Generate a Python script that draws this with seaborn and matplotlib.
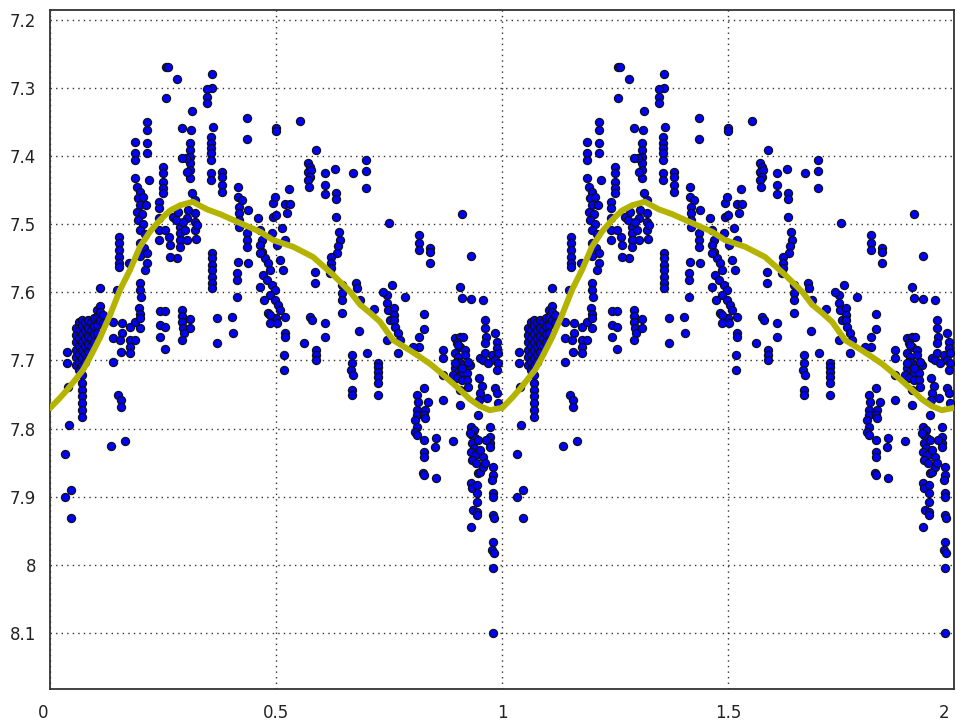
import matplotlib
matplotlib.use("Agg")
import matplotlib.pyplot as plt
import matplotlib.transforms as mtransforms
import numpy as np
import pandas as pd
import seaborn as sns

# Phase-folded V magnitudes, grouped by part of the light curve
rise = [
    (0.038, 7.688), (0.038, 7.704), (0.040, 7.739), (0.042, 7.795), (0.033, 7.837),
    (0.046, 7.890), (0.033, 7.900), (0.046, 7.931),
    (0.058, 7.652), (0.058, 7.662), (0.058, 7.673), (0.058, 7.685), (0.058, 7.695), (0.058, 7.707),
    (0.064, 7.643), (0.064, 7.655), (0.064, 7.667), (0.064, 7.679), (0.064, 7.690), (0.064, 7.702),
    (0.064, 7.714),
    (0.071, 7.641), (0.071, 7.649), (0.071, 7.661), (0.071, 7.673), (0.071, 7.685), (0.071, 7.696),
    (0.071, 7.708), (0.071, 7.721), (0.071, 7.733), (0.071, 7.743), (0.071, 7.752), (0.071, 7.762),
    (0.071, 7.773), (0.071, 7.783),
    (0.077, 7.643), (0.077, 7.655), (0.077, 7.667), (0.077, 7.679), (0.077, 7.690), (0.077, 7.702),
    (0.084, 7.641), (0.084, 7.652), (0.084, 7.664), (0.084, 7.676), (0.084, 7.688),
    (0.091, 7.643), (0.091, 7.655), (0.091, 7.667), (0.091, 7.679),
    (0.097, 7.638), (0.097, 7.649), (0.097, 7.661), (0.097, 7.673),
    (0.104, 7.626), (0.104, 7.636), (0.104, 7.648), (0.104, 7.660),
    (0.111, 7.594), (0.111, 7.620), (0.111, 7.629), (0.111, 7.641),
    (0.117, 7.633), (0.117, 7.645),
    (0.139, 7.643), (0.159, 7.645), (0.177, 7.651), (0.188, 7.643), (0.199, 7.652), (0.159, 7.660),
    (0.139, 7.667), (0.155, 7.670), (0.177, 7.670), (0.188, 7.670), (0.177, 7.680), (0.177, 7.689),
    (0.157, 7.688), (0.139, 7.702),
    (0.150, 7.751), (0.157, 7.758), (0.157, 7.768), (0.135, 7.826), (0.166, 7.818),
    (0.153, 7.519), (0.153, 7.527), (0.153, 7.538), (0.153, 7.548), (0.153, 7.557), (0.153, 7.563),
    (0.148, 7.596), (0.175, 7.557),
    (0.188, 7.379), (0.188, 7.395), (0.188, 7.406), (0.188, 7.432),
    (0.215, 7.350), (0.215, 7.362), (0.215, 7.381), (0.215, 7.395),
    (0.192, 7.445), (0.199, 7.452), (0.195, 7.462), (0.206, 7.460), (0.199, 7.472), (0.192, 7.482),
    (0.204, 7.485), (0.195, 7.494), (0.206, 7.500), (0.199, 7.508), (0.212, 7.472), (0.219, 7.435),
    (0.210, 7.514), (0.199, 7.528), (0.208, 7.535), (0.199, 7.546), (0.215, 7.542), (0.215, 7.557),
    (0.210, 7.567), (0.199, 7.586), (0.199, 7.596), (0.201, 7.607), (0.197, 7.623), (0.199, 7.632),
    (0.199, 7.638),
]

maximum = [
    (0.250, 7.416), (0.250, 7.425), (0.250, 7.438), (0.250, 7.447), (0.250, 7.454),
    (0.241, 7.467), (0.241, 7.476), (0.241, 7.491), (0.241, 7.508), (0.241, 7.523),
    (0.257, 7.269), (0.261, 7.269), (0.281, 7.287), (0.257, 7.315),
    (0.243, 7.627), (0.254, 7.627), (0.243, 7.648), (0.254, 7.651), (0.243, 7.666), (0.254, 7.683),
    (0.292, 7.359), (0.312, 7.362), (0.310, 7.381), (0.310, 7.391), (0.310, 7.401), (0.310, 7.410),
    (0.310, 7.420), (0.310, 7.432), (0.301, 7.403), (0.292, 7.403), (0.303, 7.423), (0.314, 7.454),
    (0.314, 7.334),
    (0.321, 7.464), (0.305, 7.479), (0.303, 7.491), (0.288, 7.504), (0.288, 7.513), (0.288, 7.523),
    (0.288, 7.533), (0.281, 7.549), (0.265, 7.548), (0.321, 7.483), (0.321, 7.497), (0.321, 7.508),
    (0.323, 7.522), (0.303, 7.523), (0.263, 7.519), (0.272, 7.489), (0.279, 7.494), (0.294, 7.497),
    (0.283, 7.482), (0.299, 7.508), (0.265, 7.530), (0.254, 7.508), (0.325, 7.501),
    (0.292, 7.626), (0.292, 7.635), (0.292, 7.643), (0.294, 7.652), (0.296, 7.660), (0.292, 7.670),
    (0.310, 7.639), (0.310, 7.652),
    (0.358, 7.279), (0.358, 7.300), (0.347, 7.301), (0.347, 7.313), (0.347, 7.322), (0.361, 7.357),
    (0.356, 7.372), (0.356, 7.381), (0.356, 7.388), (0.356, 7.395), (0.356, 7.406), (0.356, 7.425),
    (0.356, 7.435), (0.380, 7.423), (0.380, 7.431), (0.380, 7.442), (0.380, 7.453),
    (0.358, 7.542), (0.358, 7.549), (0.358, 7.560), (0.358, 7.567), (0.358, 7.577), (0.358, 7.586),
    (0.358, 7.594), (0.369, 7.638), (0.369, 7.674),
]

decline = [
    (0.416, 7.445), (0.416, 7.460), (0.425, 7.464), (0.418, 7.475), (0.418, 7.483), (0.418, 7.494),
    (0.418, 7.504), (0.438, 7.479), (0.436, 7.344), (0.436, 7.375), (0.416, 7.555), (0.414, 7.572),
    (0.414, 7.582), (0.414, 7.607), (0.438, 7.557), (0.403, 7.636), (0.405, 7.660), (0.436, 7.513),
    (0.436, 7.523), (0.436, 7.533),
    (0.460, 7.491), (0.465, 7.508), (0.469, 7.523), (0.493, 7.469), (0.493, 7.489), (0.498, 7.460),
    (0.500, 7.359), (0.500, 7.363), (0.500, 7.486),
    (0.465, 7.530), (0.469, 7.541), (0.476, 7.549), (0.482, 7.557), (0.487, 7.567), (0.471, 7.574),
    (0.480, 7.582), (0.491, 7.589), (0.498, 7.596), (0.487, 7.604), (0.473, 7.611), (0.498, 7.611),
    (0.504, 7.618), (0.509, 7.626), (0.500, 7.638), (0.487, 7.645), (0.465, 7.542), (0.465, 7.592),
    (0.482, 7.630), (0.509, 7.552), (0.515, 7.567), (0.502, 7.530), (0.491, 7.513), (0.513, 7.505),
    (0.520, 7.523),
    (0.529, 7.448), (0.520, 7.470), (0.531, 7.470), (0.524, 7.483), (0.518, 7.692), (0.518, 7.714),
    (0.487, 7.633), (0.502, 7.645), (0.520, 7.636), (0.520, 7.660), (0.520, 7.666),
    (0.553, 7.348), (0.588, 7.391), (0.571, 7.410), (0.575, 7.416), (0.571, 7.423), (0.577, 7.420),
    (0.575, 7.431), (0.571, 7.435), (0.573, 7.445), (0.608, 7.425), (0.608, 7.442), (0.608, 7.456),
    (0.631, 7.419), (0.633, 7.454), (0.633, 7.463), (0.633, 7.489), (0.670, 7.425), (0.699, 7.406),
    (0.699, 7.422), (0.699, 7.447), (0.750, 7.498),
    (0.639, 7.511), (0.642, 7.523), (0.637, 7.532), (0.635, 7.542), (0.622, 7.548), (0.622, 7.557),
    (0.622, 7.564), (0.619, 7.572),
    (0.586, 7.570), (0.586, 7.586), (0.646, 7.589), (0.646, 7.601), (0.646, 7.611), (0.646, 7.630),
    (0.677, 7.586), (0.679, 7.594), (0.686, 7.611), (0.717, 7.624), (0.684, 7.657), (0.701, 7.689),
    (0.575, 7.636), (0.580, 7.641), (0.608, 7.645), (0.608, 7.666), (0.562, 7.674), (0.588, 7.685),
    (0.588, 7.692), (0.588, 7.699),
    (0.668, 7.692), (0.668, 7.704), (0.666, 7.714), (0.670, 7.721), (0.668, 7.743), (0.668, 7.751),
    (0.726, 7.704), (0.726, 7.710), (0.726, 7.717), (0.726, 7.724), (0.726, 7.733), (0.726, 7.751),
    (0.746, 7.604), (0.746, 7.616), (0.748, 7.626), (0.752, 7.641), (0.761, 7.623), (0.761, 7.633),
    (0.761, 7.641), (0.763, 7.651), (0.770, 7.660), (0.774, 7.670), (0.746, 7.670), (0.737, 7.599),
    (0.757, 7.589),
]

minimum = [
    (0.816, 7.516), (0.816, 7.527), (0.816, 7.538), (0.841, 7.535), (0.841, 7.541), (0.841, 7.557),
    (0.912, 7.485), (0.931, 7.547), (0.785, 7.607), (0.827, 7.632), (0.827, 7.654), (0.816, 7.666),
    (0.816, 7.680), (0.803, 7.680), (0.770, 7.689),
    (0.812, 7.751), (0.814, 7.761), (0.812, 7.773), (0.812, 7.780), (0.808, 7.787), (0.812, 7.798),
    (0.808, 7.805), (0.812, 7.809), (0.827, 7.740), (0.836, 7.761), (0.830, 7.773), (0.827, 7.780),
    (0.830, 7.784), (0.827, 7.817), (0.827, 7.834), (0.827, 7.842), (0.825, 7.865), (0.827, 7.868),
    (0.854, 7.814), (0.852, 7.827), (0.854, 7.873), (0.892, 7.818),
    (0.896, 7.667), (0.907, 7.666), (0.914, 7.666), (0.900, 7.674), (0.907, 7.680), (0.918, 7.685),
    (0.896, 7.689), (0.903, 7.695), (0.900, 7.702), (0.907, 7.704), (0.914, 7.707), (0.929, 7.707),
    (0.896, 7.711), (0.903, 7.717), (0.912, 7.718), (0.923, 7.718), (0.892, 7.721), (0.900, 7.726),
    (0.912, 7.729), (0.923, 7.729), (0.907, 7.743), (0.869, 7.685), (0.869, 7.696), (0.869, 7.721),
    (0.869, 7.758), (0.907, 7.765), (0.903, 7.677), (0.918, 7.692), (0.925, 7.702), (0.896, 7.704),
    (0.912, 7.711), (0.925, 7.739),
    (0.962, 7.641), (0.962, 7.652), (0.965, 7.666), (0.962, 7.674), (0.951, 7.696), (0.958, 7.699),
    (0.962, 7.689), (0.969, 7.704), (0.978, 7.692), (0.985, 7.660), (0.989, 7.673), (0.989, 7.682),
    (0.991, 7.689), (0.985, 7.699), (0.991, 7.704), (0.989, 7.714), (0.985, 7.740), (0.989, 7.748),
    (0.991, 7.762), (0.949, 7.726), (0.956, 7.737), (0.951, 7.748), (0.949, 7.758), (0.967, 7.755),
    (0.947, 7.780), (0.958, 7.611), (0.907, 7.592), (0.912, 7.608), (0.931, 7.610),
    (0.931, 7.798), (0.938, 7.802), (0.934, 7.809), (0.940, 7.814), (0.934, 7.821), (0.938, 7.829),
    (0.931, 7.834), (0.940, 7.839), (0.934, 7.846), (0.942, 7.851), (0.947, 7.865), (0.951, 7.864),
    (0.958, 7.856), (0.958, 7.842), (0.962, 7.851), (0.973, 7.798), (0.973, 7.812), (0.973, 7.821),
    (0.973, 7.827), (0.980, 7.856), (0.980, 7.868), (0.978, 7.875), (0.931, 7.880), (0.934, 7.887),
    (0.945, 7.883), (0.945, 7.895), (0.945, 7.908), (0.936, 7.920), (0.945, 7.922), (0.945, 7.927),
    (0.931, 7.945), (0.980, 7.895), (0.980, 7.900), (0.980, 7.927), (0.982, 7.931), (0.980, 7.967),
    (0.978, 7.978), (0.982, 7.983), (0.980, 8.005), (0.980, 8.100), (0.929, 7.806), (0.947, 7.817),
    (0.951, 7.831), (0.965, 7.817),
]

# Mean light curve (phase, magnitude)
fit_phase = [0.000, 0.022, 0.038, 0.055, 0.073, 0.088, 0.111, 0.133, 0.155, 0.177, 0.199,
             0.221, 0.243, 0.265, 0.288, 0.316, 0.347, 0.376, 0.420, 0.465, 0.493, 0.538,
             0.582, 0.626, 0.664, 0.686, 0.708, 0.730, 0.759, 0.796, 0.819, 0.841, 0.863,
             0.885, 0.907, 0.929, 0.951, 0.973, 0.996, 1.000]
fit_mag = [7.770, 7.755, 7.743, 7.729, 7.714, 7.696, 7.666, 7.633, 7.596, 7.567, 7.533,
           7.511, 7.494, 7.480, 7.472, 7.467, 7.478, 7.485, 7.498, 7.511, 7.523, 7.533,
           7.548, 7.574, 7.599, 7.618, 7.630, 7.643, 7.670, 7.685, 7.695, 7.705, 7.717,
           7.730, 7.743, 7.757, 7.767, 7.773, 7.770, 7.769]

x_ticks = [0, 0.5, 1, 1.5, 2]
x_labels = ["0", "0.5", "1", "1.5", "2"]
y_ticks = [7.2, 7.3, 7.4, 7.5, 7.6, 7.7, 7.8, 7.9, 8.0, 8.1]
y_labels = ["7.2", "7.3", "7.4", "7.5", "7.6", "7.7", "7.8", "7.9", "8", "8.1"]

obs = pd.DataFrame(rise + maximum + decline + minimum, columns=["phase", "mag"])
# show two cycles
obs2 = pd.concat([obs, obs.assign(phase=obs["phase"] + 1)], ignore_index=True)
fit = pd.DataFrame({"phase": fit_phase, "mag": fit_mag})
fit2 = pd.concat([fit, fit.assign(phase=fit["phase"] + 1)], ignore_index=True)

sns.set_theme(style="white")
plt.rcParams["font.family"] = ["DejaVu Sans"]

fig = plt.figure(figsize=(9.57, 7.25), dpi=100)
ax = fig.add_axes([50 / 957, 36 / 725, 904 / 957, 679 / 725])

sns.scatterplot(data=obs2, x="phase", y="mag", ax=ax, s=34, color="#0000ff",
                edgecolor="#111111", linewidth=0.9, zorder=3, legend=False)
sns.lineplot(data=fit2, x="phase", y="mag", ax=ax, color="#b4b400", linewidth=4.3,
             sort=False, estimator=None, zorder=4, legend=False)

ax.set_xlim(0, 2)
ax.set_ylim(8.1824, 7.1853)
ax.set_xticks(x_ticks)
ax.set_xticklabels(x_labels)
ax.set_yticks(y_ticks)
ax.set_yticklabels(y_labels)
ax.set_xlabel("")
ax.set_ylabel("")
ax.grid(True, color="#333333", linestyle=(0, (1, 3)), linewidth=1.0, zorder=0)
ax.set_axisbelow(True)
ax.tick_params(axis="both", length=0, labelsize=12, labelcolor="#222222")
ax.tick_params(axis="x", pad=11)
ax.tick_params(axis="y", pad=10)
for sp in ax.spines.values():
    sp.set_visible(True)
    sp.set_color("#333333")
    sp.set_linewidth(1.3)

# keep the end labels inside the canvas
xt = ax.get_xticklabels()
xt[0].set_transform(xt[0].get_transform() + mtransforms.ScaledTranslation(-7 / 100, 0, fig.dpi_scale_trans))
xt[-1].set_transform(xt[-1].get_transform() + mtransforms.ScaledTranslation(-10 / 100, 0, fig.dpi_scale_trans))

fig.savefig("out.png", dpi=100, facecolor="white")
